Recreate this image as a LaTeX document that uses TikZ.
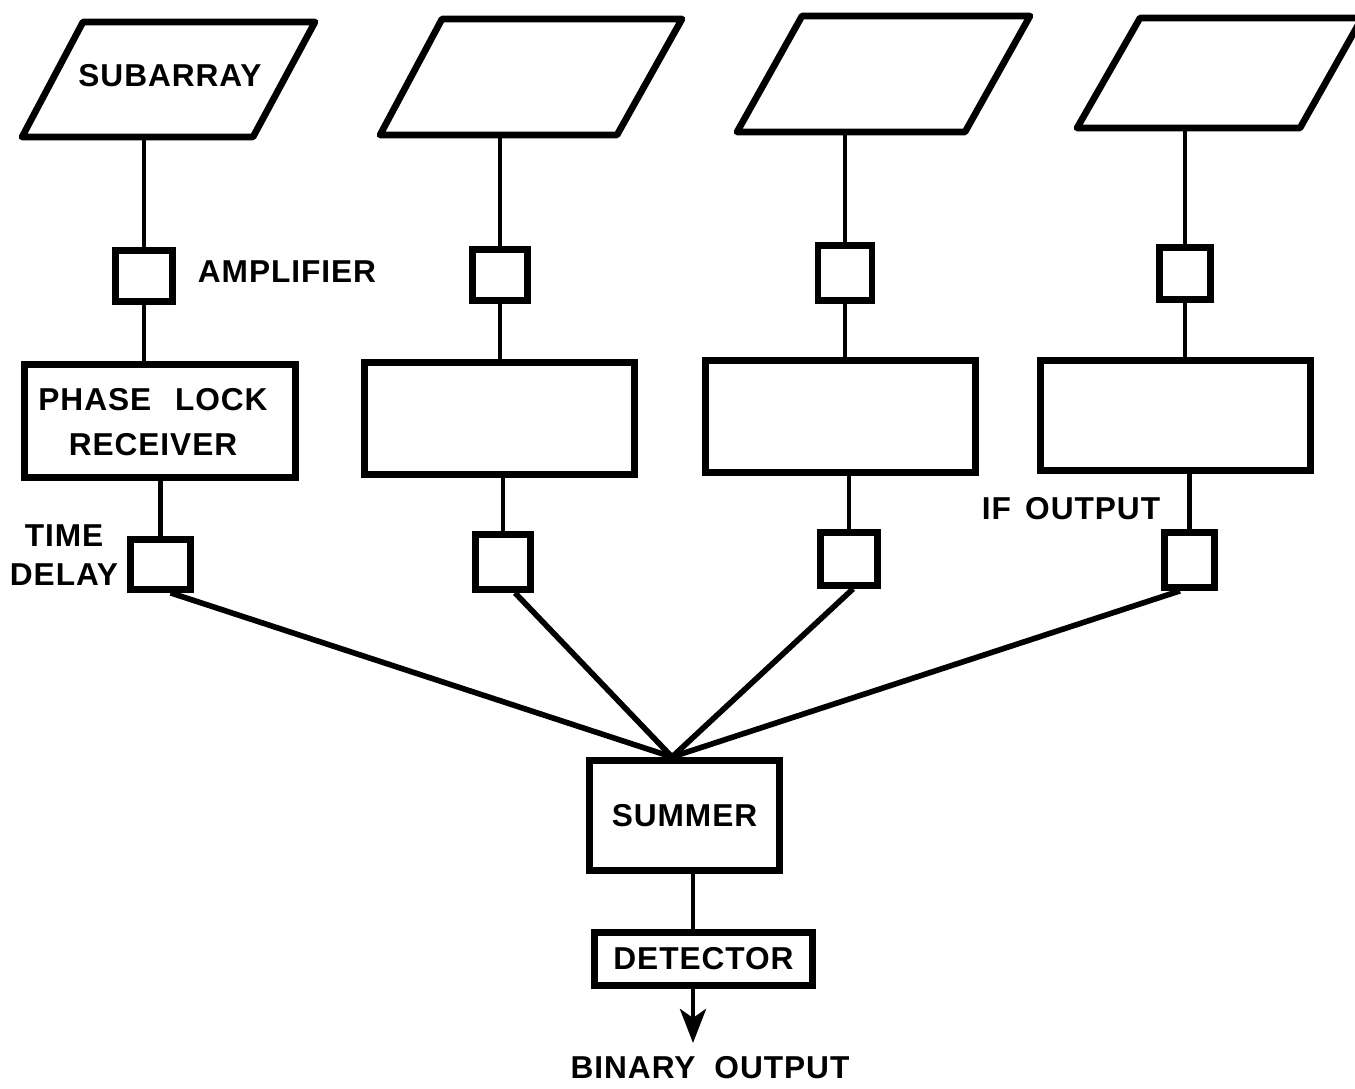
\documentclass[tikz,border=0pt]{standalone}
\usepackage{fontspec}
\setmainfont{Liberation Sans}[LetterSpace=3]
\usetikzlibrary{arrows.meta}
\tikzset{
  blk/.style={draw, line width=1.9pt, inner sep=0pt, align=center, font=\lblfont},
  conn/.style={line width=1.4pt},
  fan/.style={line width=1.6pt},
  para/.style={line width=1.9pt, line join=round},
  lbl/.style={inner sep=0pt, align=center, font=\lblfont},
}
\newcommand{\lblfont}{\fontsize{9}{12.8}\selectfont\bfseries}
\begin{document}
\begin{tikzpicture}[x=0.01cm, y=-0.01cm]
\path[use as bounding box] (0,0) rectangle (1355,1089);

% subarrays (parallelograms)
\draw[para] (83,22) -- (315,22) -- (253,137) -- (22,137) -- cycle;
\draw[para] (442,19) -- (682,19) -- (617,135) -- (380,135) -- cycle;
\draw[para] (802,16) -- (1030,16) -- (965,132) -- (737,132) -- cycle;
\draw[para] (1140,18) -- (1362,18) -- (1300,128) -- (1077,128) -- cycle;
\coordinate (p1) at (142,137);
\coordinate (p2) at (500,135);
\coordinate (p3) at (845,132);
\coordinate (p4) at (1185,128);
\node[lbl] (sublbl) at (170,76) {SUBARRAY};

% amplifiers
\node[blk, minimum width=0.57cm, minimum height=0.51cm] (amp1) at (144,276) {};
\node[blk, minimum width=0.55cm, minimum height=0.51cm] (amp2) at (500,275) {};
\node[blk, minimum width=0.54cm, minimum height=0.55cm] (amp3) at (845,273) {};
\node[blk, minimum width=0.51cm, minimum height=0.52cm] (amp4) at (1185,273.5) {};
\node[lbl] (amplbl) at (287,272) {AMPLIFIER};

% phase lock receivers
\node[blk, minimum width=2.71cm, minimum height=1.13cm] (plr1) at (160,421) {};
\node[blk, minimum width=2.70cm, minimum height=1.12cm] (plr2) at (499.5,418.5) {};
\node[blk, minimum width=2.70cm, minimum height=1.12cm] (plr3) at (840.5,416.5) {};
\node[blk, minimum width=2.70cm, minimum height=1.10cm] (plr4) at (1175.5,415.5) {};
\node[lbl] (plrlbl) at (153,422) {PHASE\hspace{0.75em}LOCK\\RECEIVER};

% time delays
\node[blk, minimum width=0.60cm, minimum height=0.50cm] (td1) at (160.5,564.5) {};
\node[blk, minimum width=0.55cm, minimum height=0.55cm] (td2) at (503,562) {};
\node[blk, minimum width=0.57cm, minimum height=0.53cm] (td3) at (849,559) {};
\node[blk, minimum width=0.50cm, minimum height=0.55cm] (td4) at (1189.5,560) {};
\node[lbl, font=\fontsize{9}{11.3}\selectfont\bfseries] (tdlbl) at (64,555) {TIME\\DELAY};
\node[lbl] (iflbl) at (1071,509) {IF\hspace{0.45em}OUTPUT};

% summer and detector
\node[blk, minimum width=1.90cm, minimum height=1.10cm] (sum) at (684.5,815.5) {SUMMER};
\node[blk, minimum width=2.18cm, minimum height=0.53cm] (det) at (703.5,959) {DETECTOR};
\coordinate (conv) at (672,757);
\coordinate (bo) at (693,1043);
\node[lbl] (bolbl) at (710,1068) {BINARY\hspace{0.6em}OUTPUT};

% vertical connectors
\foreach \i in {1,2,3,4}{
  \draw[conn] (amp\i.north |- p\i) -- (amp\i.north);
  \draw[conn] (amp\i.south) -- (amp\i.south |- plr\i.north);
  \draw[conn] (td\i.north |- plr\i.south) -- (td\i.north);
}

% fan-in to summer
\draw[fan] ([xshift=0.10cm]td1.south) -- (conv);
\draw[fan] ([xshift=0.12cm]td2.south) -- (conv);
\draw[fan] ([xshift=0.04cm]td3.south) -- (conv);
\draw[fan] ([xshift=-0.095cm]td4.south) -- (conv);

% summer -> detector -> output
\draw[conn] (bo |- sum.south) -- (bo |- det.north);
\draw[conn, -{Stealth[length=0.34cm, width=0.26cm, inset=0.09cm]}] (bo |- det.south) -- (bo);
\end{tikzpicture}
\end{document}
